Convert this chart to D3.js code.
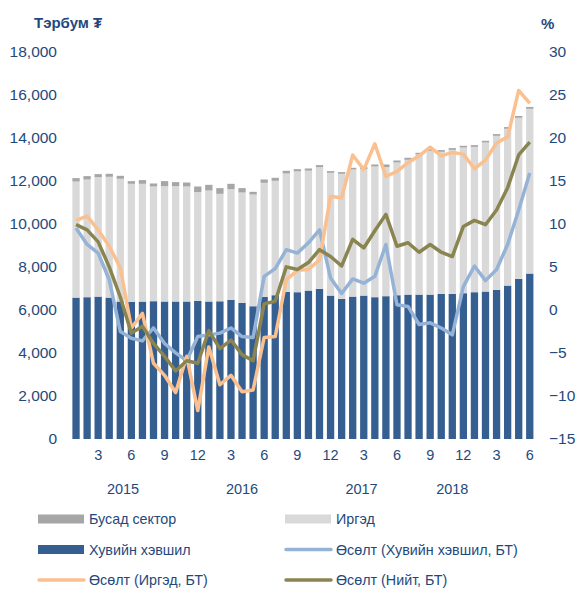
<!DOCTYPE html>
<html>
<head>
<meta charset="utf-8">
<script src="https://cdn.jsdelivr.net/npm/d3@7"></script>
<style>
  body { margin: 0; background: #fff; }
  text { font-family: "Liberation Sans", Arial, sans-serif; fill: #1F497D; }
</style>
</head>
<body>
<script>
// month number of each bar, Jan 2015 .. Jun 2018
var monthNums = [1,2,3,4,5,6,7,8,9,10,11,12, 1,2,3,4,5,6,7,8,9,10,11,12,
                 1,2,3,4,5,6,7,8,9,10,11,12, 1,2,3,4,5,6];
var yearLabels = ["2015", "2016", "2017", "2018"];

// bars, billion tugrik
var privateSector = [6572,6590,6618,6572,6390,6372,6386,6404,6390,6390,6390,6418,6390,6400,6465,6325,6170,6604,6682,6837,6822,
                     6898,6977,6665,6511,6618,6665,6590,6637,6682,6711,6711,6711,6744,6744,6776,6822,6853,6930,7131,7442,7690];
var individuals   = [5395,5470,5553,5614,5703,5488,5474,5331,5362,5362,5345,5056,5158,4995,5148,5131,5192,5303,5318,5502,5618,
                     5574,5660,5707,5814,5907,5882,6075,6000,6169,6265,6512,6681,6603,6696,6771,6756,6927,7161,7286,7487,7657];
var otherSector   = [158,158,140,139,139,125,172,140,233,187,186,261,265,265,247,204,126,153,139,126,100,
                     100,93,79,79,79,90,93,121,93,93,79,80,80,80,80,80,80,80,80,85,85];

// lines, % y/y
var growthPrivate = [9.5,7.6,6.6,3.5,-2.5,-3.3,-3.6,-2.1,-3.9,-5.0,-5.9,-3.1,-2.9,-2.7,-2.1,-3.1,-3.2,3.9,4.8,7.0,6.6,
                     7.8,9.3,3.7,1.9,3.6,3.1,3.9,7.6,0.6,0.4,-1.7,-1.5,-2.1,-2.9,2.7,5.1,3.4,4.7,7.6,11.6,15.9];
var growthIndiv   = [10.4,10.9,9.3,7.4,4.9,-2.1,-0.4,-6.2,-7.6,-9.6,-5.4,-11.7,-4.3,-8.7,-7.6,-9.5,-9.3,-3.2,-3.1,3.5,4.6,
                     4.7,5.8,13.2,13.0,18.0,16.3,19.3,15.5,16.1,17.1,17.9,18.9,17.9,18.3,18.1,16.4,17.4,19.4,20.1,25.5,24.0];
var growthTotal   = [9.9,9.3,7.9,5.0,1.5,-2.7,-1.9,-3.9,-5.4,-7.1,-5.9,-6.2,-2.4,-4.5,-3.5,-5.2,-5.9,0.7,1.0,5.0,4.7,
                     5.5,7.0,6.2,5.1,8.2,7.2,9.2,11.1,7.4,7.8,6.7,7.6,6.7,6.2,9.7,10.4,9.9,11.6,14.2,18.0,19.5];

var leftTicks = [0,2000,4000,6000,8000,10000,12000,14000,16000,18000];
var rightTicks = [-15,-10,-5,0,5,10,15,20,25,30];

var colors = {
    private: "#365F91", indiv: "#D9D9D9", other: "#A6A6A6",
    gPrivate: "#95B3D7", gIndiv: "#FAC090", gTotal: "#8A8450"
};

var W = 581, H = 591;
var svg = d3.select("body").append("svg").attr("width", W).attr("height", H);

var idx = d3.range(monthNums.length);
var x = d3.scaleBand().domain(idx).range([70.5, 535.3]).paddingInner(0.34).paddingOuter(0.17);
var yL = d3.scaleLinear().domain([0, 18000]).range([439, 51.7]);
var yR = d3.scaleLinear().domain([-15, 30]).range([439, 51.7]);
var cx = i => x(i) + x.bandwidth() / 2;

// stacked bars
var stackData = idx.map(i => ({i: i, private: privateSector[i], indiv: individuals[i], other: otherSector[i]}));
var series = d3.stack().keys(["private", "indiv", "other"])(stackData);
svg.append("g").selectAll("g").data(series).enter()
    .append("g")
    .attr("fill", d => colors[d.key])
    .selectAll("rect").data(d => d).enter()
    .append("rect")
    .attr("x", d => x(d.data.i))
    .attr("width", x.bandwidth())
    .attr("y", d => yL(d[1]))
    .attr("height", d => yL(d[0]) - yL(d[1]));

// growth lines
var line = d3.line().x((d, i) => cx(i)).y(d => yR(d));
[[growthPrivate, colors.gPrivate], [growthIndiv, colors.gIndiv], [growthTotal, colors.gTotal]].forEach(function(s) {
    svg.append("path")
        .datum(s[0])
        .attr("d", line)
        .attr("fill", "none")
        .attr("stroke", s[1])
        .attr("stroke-width", 3.5)
        .attr("stroke-linejoin", "round");
});

// left axis
var leftAxis = d3.axisLeft(yL).tickValues(leftTicks).tickSize(0).tickPadding(0).tickFormat(d3.format(","));
svg.append("g").attr("transform", "translate(57,0)").call(leftAxis)
    .call(g => g.select(".domain").remove())
    .selectAll("text").attr("font-size", 15.5).attr("font-family", null).attr("fill", "#1F497D");

// right axis
var rightAxis = d3.axisRight(yR).tickValues(rightTicks).tickSize(0).tickPadding(0);
svg.append("g").attr("transform", "translate(549,0)").call(rightAxis)
    .call(g => g.select(".domain").remove())
    .selectAll("text").attr("font-size", 15.5).attr("font-family", null).attr("fill", "#1F497D");

// bottom axis: every third month
var bottomAxis = d3.axisBottom(x).tickSize(0).tickPadding(0)
    .tickValues(idx.filter(i => monthNums[i] % 3 === 0))
    .tickFormat(i => monthNums[i]);
svg.append("g").attr("transform", "translate(0,450)").call(bottomAxis)
    .call(g => g.select(".domain").remove())
    .selectAll("text").attr("font-size", 14.5).attr("font-family", null).attr("fill", "#1F497D");

// year labels
var yearAt = [4.25, 15.0, 25.8, 34.0];
svg.append("g").selectAll("text").data(yearLabels).enter()
    .append("text")
    .attr("x", (d, i) => cx(0) + yearAt[i] * x.step())
    .attr("y", 494)
    .attr("text-anchor", "middle")
    .attr("font-size", 14.5)
    .text(d => d);

// axis titles
svg.append("text").attr("x", 34).attr("y", 28).attr("font-size", 15).attr("font-weight", "bold").text("Тэрбум ₮");
svg.append("text").attr("x", 541).attr("y", 29).attr("font-size", 15).attr("font-weight", "bold").text("%");

// legend
var legendItems = [
    {label: "Бусад сектор", color: colors.other, type: "rect"},
    {label: "Иргэд", color: colors.indiv, type: "rect"},
    {label: "Хувийн хэвшил", color: colors.private, type: "rect"},
    {label: "Өсөлт (Хувийн хэвшил, БТ)", color: colors.gPrivate, type: "line"},
    {label: "Өсөлт (Иргэд, БТ)", color: colors.gIndiv, type: "line"},
    {label: "Өсөлт (Нийт, БТ)", color: colors.gTotal, type: "line"}
];
var legend = svg.append("g").selectAll("g").data(legendItems).enter()
    .append("g")
    .attr("transform", (d, i) => "translate(" + (i % 2 ? 285 : 38) + "," + (519 + Math.floor(i / 2) * 30.5) + ")");
legend.filter(d => d.type === "rect").append("rect")
    .attr("x", 0).attr("y", -4.5).attr("width", 46).attr("height", 9)
    .attr("fill", d => d.color);
legend.filter(d => d.type === "line").append("line")
    .attr("x1", 1).attr("x2", 46).attr("y1", 0).attr("y2", 0)
    .attr("stroke", d => d.color).attr("stroke-width", 3.5).attr("stroke-linecap", "round");
legend.append("text")
    .attr("x", 51).attr("y", 0).attr("dy", "0.35em")
    .attr("font-size", 14.3)
    .text(d => d.label);
</script>
</body>
</html>
